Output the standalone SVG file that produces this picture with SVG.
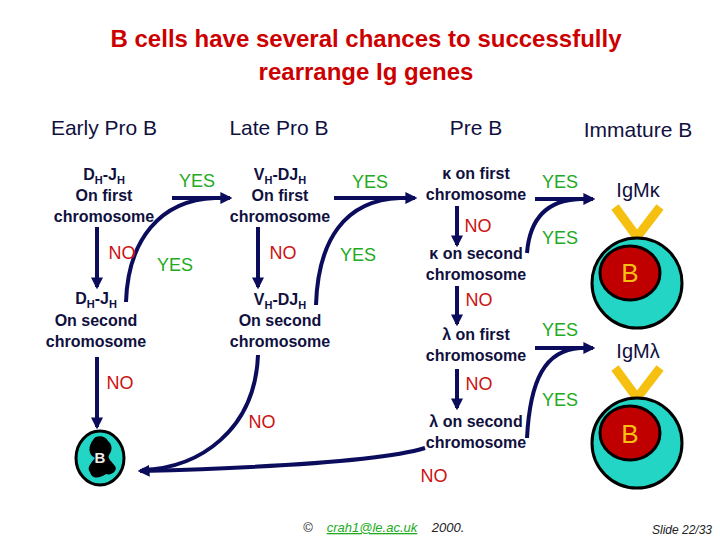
<svg xmlns="http://www.w3.org/2000/svg" width="720" height="540" viewBox="0 0 720 540">
<defs>
<marker id="ah" viewBox="0 0 10 10" refX="8" refY="5" markerWidth="3" markerHeight="3" orient="auto" markerUnits="strokeWidth"><path d="M0,0 L10,5 L0,10 z" fill="#0c0c5c"/></marker>
<style>
text{font-family:"Liberation Sans",Arial,sans-serif;text-anchor:middle}
.t{fill:#cc0000;font-size:24px;font-weight:bold}
.h{fill:#101040;font-size:21px}
.n{fill:#101040;font-size:16px;font-weight:bold}
.s{font-size:11px}
.no{fill:#cc1111;font-size:18px}
.yes{fill:#22aa22;font-size:18px}
.c{fill:none;stroke:#0c0c5c;stroke-width:4;marker-end:url(#ah)}
.l{fill:none;stroke:#0c0c5c;stroke-width:4}
.cell{fill:#22d5c5;stroke:#000;stroke-width:3}
.nuc{fill:#c00000;stroke:#000;stroke-width:3}
.v{fill:none;stroke:#f5c010;stroke-width:9}
.bb{fill:#f5c010;font-size:26px}
.ig{fill:#101040;font-size:20px}
</style>
</defs>
<rect width="720" height="540" fill="#fff"/>
<text class="t" x="366" y="47">B cells have several chances to successfully</text>
<text class="t" x="366" y="80">rearrange Ig genes</text>
<text class="h" x="104" y="135">Early Pro B</text>
<text class="h" x="279" y="135">Late Pro B</text>
<text class="h" x="476" y="135">Pre B</text>
<text class="h" x="638" y="137">Immature B</text>

<g id="connectors">
<path class="c" d="M97,227 V287"/>
<path class="c" d="M97,357 V427"/>
<path class="c" d="M258,227 V287"/>
<path class="c" d="M172,198 H230"/>
<path class="l" d="M126,302 C128,240 160,200 215,198"/>
<path class="c" d="M334,198 H415"/>
<path class="l" d="M316,305 C318,240 345,200 400,198"/>
<path class="l" d="M258,355 C255,430 200,468 142,470"/>
<path class="c" d="M425,448 C380,462 250,468 140,471"/>
<path class="c" d="M457,206 V245"/>
<path class="c" d="M457,286 V324"/>
<path class="c" d="M457,369 V408"/>
<path class="c" d="M535,199 H593"/>
<path class="l" d="M527,253 C530,215 550,200 580,199"/>
<path class="c" d="M535,348 H593"/>
<path class="l" d="M527,438 C530,380 545,350 580,348"/>
</g>

<g id="labels">
<text class="yes" x="197" y="187">YES</text>
<text class="yes" x="175" y="271">YES</text>
<text class="no" x="122" y="259">NO</text>
<text class="no" x="120" y="389">NO</text>
<text class="no" x="283" y="259">NO</text>
<text class="no" x="262" y="428">NO</text>
<text class="yes" x="370" y="188">YES</text>
<text class="yes" x="358" y="261">YES</text>
<text class="no" x="478" y="232">NO</text>
<text class="no" x="479" y="306">NO</text>
<text class="no" x="479" y="390">NO</text>
<text class="no" x="434" y="482">NO</text>
<text class="yes" x="560" y="188">YES</text>
<text class="yes" x="560" y="244">YES</text>
<text class="yes" x="560" y="336">YES</text>
<text class="yes" x="560" y="406">YES</text>
</g>

<g id="n1"><text class="n" x="104" y="180">D<tspan class="s" dy="4">H</tspan><tspan dy="-4">-J</tspan><tspan class="s" dy="4">H</tspan></text><text class="n" x="104" y="201">On first</text><text class="n" x="104" y="222">chromosome</text></g>
<g id="n2"><text class="n" x="96" y="304">D<tspan class="s" dy="4">H</tspan><tspan dy="-4">-J</tspan><tspan class="s" dy="4">H</tspan></text><text class="n" x="96" y="326">On second</text><text class="n" x="96" y="347">chromosome</text></g>
<g id="n3"><text class="n" x="280" y="180">V<tspan class="s" dy="4">H</tspan><tspan dy="-4">-DJ</tspan><tspan class="s" dy="4">H</tspan></text><text class="n" x="280" y="201">On first</text><text class="n" x="280" y="222">chromosome</text></g>
<g id="n4"><text class="n" x="280" y="305">V<tspan class="s" dy="4">H</tspan><tspan dy="-4">-DJ</tspan><tspan class="s" dy="4">H</tspan></text><text class="n" x="280" y="326">On second</text><text class="n" x="280" y="347">chromosome</text></g>
<g id="k1"><text class="n" x="476" y="179">κ on first</text><text class="n" x="476" y="200">chromosome</text></g>
<g id="k2"><text class="n" x="476" y="259">κ on second</text><text class="n" x="476" y="280">chromosome</text></g>
<g id="l1"><text class="n" x="476" y="340">λ on first</text><text class="n" x="476" y="361">chromosome</text></g>
<g id="l2"><text class="n" x="476" y="427">λ on second</text><text class="n" x="476" y="448">chromosome</text></g>

<g id="dead">
<ellipse class="cell" cx="100" cy="458" rx="24" ry="27" stroke-width="2"/>
<path d="M93,440 C96,434 106,436 108,441 C112,444 113,450 109,455 C107,458 112,462 115,466 C118,470 112,476 106,474 C100,478 92,480 90,472 C86,468 92,462 95,458 C88,455 88,446 93,440 Z" fill="#000"/>
<text x="100" y="463" style="fill:#eee;font-size:15px;font-weight:bold">B</text>
</g>

<g id="igmk">
<text class="ig" x="638" y="197">IgMκ</text>
<path class="v" d="M615,207 L637,237 L660,207"/>
<circle class="cell" cx="637" cy="283" r="45"/>
<ellipse class="nuc" cx="630" cy="273" rx="30" ry="27"/>
<text class="bb" x="630" y="282">B</text>
</g>
<g id="igml">
<text class="ig" x="638" y="358">IgMλ</text>
<path class="v" d="M615,368 L637,398 L660,368"/>
<circle class="cell" cx="637" cy="443" r="45"/>
<ellipse class="nuc" cx="630" cy="433" rx="30" ry="27"/>
<text class="bb" x="630" y="443">B</text>
</g>

<g id="footer">
<text x="308" y="532" style="font-size:13px;fill:#222">©</text>
<text x="372" y="532" style="font-size:13px;fill:#22aa22;font-style:italic;text-decoration:underline">crah1@le.ac.uk</text>
<text x="448" y="532" style="font-size:13px;fill:#222;font-style:italic">2000.</text>
<text x="682" y="534" style="font-size:12px;fill:#222;font-style:italic">Slide 22/33</text>
</g>
</svg>
